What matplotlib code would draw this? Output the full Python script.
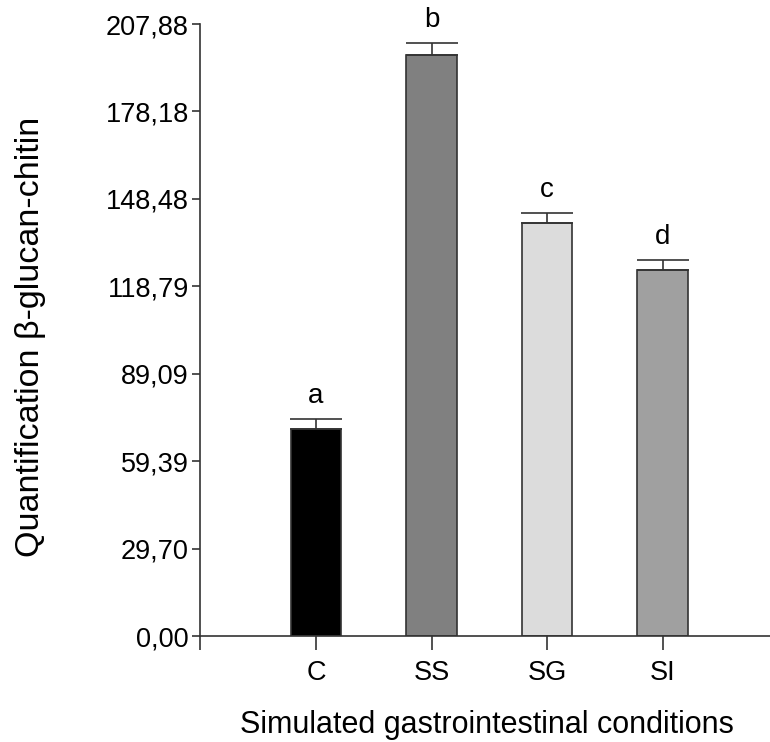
import matplotlib
matplotlib.use('Agg')
import matplotlib.pyplot as plt

plt.rcParams['font.family'] = ['Liberation Sans', 'DejaVu Sans']

# data
conditions = ['C', 'SS', 'SG', 'SI']
means = [70.3, 197.4, 140.3, 124.3]
errors = [3.5, 3.9, 3.3, 3.5]
letters = ['a', 'b', 'c', 'd']
bar_colors = ['#000000', '#808080', '#dcdcdc', '#a0a0a0']
ytick_values = [0.00, 29.70, 59.39, 89.09, 118.79, 148.48, 178.18, 207.88]
ytick_labels = ['0,00', '29,70', '59,39', '89,09', '118,79', '148,48', '178,18', '207,88']

fig = plt.figure(figsize=(7.7, 7.42), dpi=100)
ax = fig.add_axes([200 / 770, 1 - 636 / 742, 570 / 770, 612 / 742])

x = list(range(len(conditions)))
ax.bar(x, means, width=0.437, color=bar_colors, edgecolor='#333333', linewidth=1.2, zorder=2)
ax.errorbar(x, means, yerr=[[0] * len(errors), errors], fmt='none', ecolor='#333333',
            elinewidth=1.2, capsize=18.6, capthick=1.2, zorder=3)

# significance letters above the error bars
for xi, m, e, letter in zip(x, means, errors, letters):
    ax.text(xi, m + e + 5.5, letter, ha='center', va='baseline', fontsize=20)

ax.set_xlim(-1.004, 3.93)
ax.set_ylim(0, 207.88)
ax.set_yticks(ytick_values)
ax.set_yticklabels(ytick_labels, fontsize=19.5)
ax.set_xticks(x)
ax.set_xticklabels(conditions, fontsize=19.5)
# little tick where the left spine meets the x axis
ax.set_xticks([-1.004], minor=True)
ax.tick_params(axis='x', which='both', direction='out', length=10, width=1.2, color='#333333', pad=7)
ax.tick_params(axis='y', direction='out', length=6, width=1.2, color='#333333', pad=2)

for side in ['top', 'right']:
    ax.spines[side].set_visible(False)
for side in ['left', 'bottom']:
    ax.spines[side].set_color('#333333')
    ax.spines[side].set_linewidth(1.2)

ax.set_ylabel('Quantification β-glucan-chitin', fontsize=24.5, va='center')
ax.yaxis.set_label_coords(-0.298, 0.489)
ax.set_xlabel('Simulated gastrointestinal conditions', fontsize=22, va='center')
ax.xaxis.set_label_coords(0.504, -0.145)

fig.savefig('out.png', dpi=100)
